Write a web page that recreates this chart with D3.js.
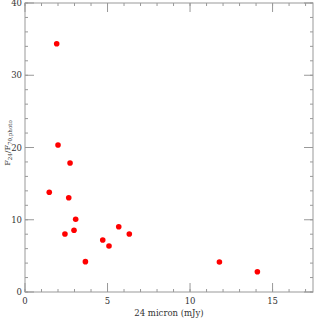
<!DOCTYPE html>
<html>
<head>
<meta charset="utf-8">
<script src="https://cdn.jsdelivr.net/npm/d3@7"></script>
<style>
body { margin: 0; background: #fff; }
text { font-family: "DejaVu Serif", "Liberation Serif", serif; }
</style>
</head>
<body>
<svg id="chart" width="314" height="320"></svg>
<script>
// flux at 24 micron (mJy) and F24/F70 ratio
var flux24 = [1.47, 1.92, 2.0, 2.42, 2.65, 2.73, 2.97, 3.07, 3.66, 4.71, 5.09, 5.68, 6.32, 11.78, 14.08];
var ratio = [13.8, 34.37, 20.35, 8.03, 13.05, 17.85, 8.54, 10.06, 4.2, 7.2, 6.37, 9.04, 8.03, 4.15, 2.81];
var xTicks = [0, 5, 10, 15];
var yTicks = [0, 10, 20, 30, 40];

var svg = d3.select('#chart');
var pLeft = 25, pRight = 313, pTop = 3, pBottom = 292;

var x = d3.scaleLinear().domain([0, 17.45]).range([pLeft, pRight]);
var y = d3.scaleLinear().domain([0, 40]).range([pBottom, pTop]);

var tickColor = '#999';

// frame
svg.append('rect')
    .attr('x', pLeft).attr('y', pTop)
    .attr('width', pRight - pLeft).attr('height', pBottom - pTop)
    .attr('fill', 'none').attr('stroke', tickColor).attr('stroke-width', 1);

// inward ticks on all four sides
var xMinor = d3.range(0, 18, 1);
var yMinor = d3.range(0, 41, 2);

function xt(g, vals, len) {
    g.selectAll(null).data(vals).enter().append('line')
        .attr('x1', function(d) { return x(d); }).attr('x2', function(d) { return x(d); })
        .attr('y1', pBottom).attr('y2', pBottom - len)
        .attr('stroke', tickColor);
    g.selectAll(null).data(vals).enter().append('line')
        .attr('x1', function(d) { return x(d); }).attr('x2', function(d) { return x(d); })
        .attr('y1', pTop).attr('y2', pTop + len)
        .attr('stroke', tickColor);
}
function yt(g, vals, len) {
    g.selectAll(null).data(vals).enter().append('line')
        .attr('y1', function(d) { return y(d); }).attr('y2', function(d) { return y(d); })
        .attr('x1', pLeft).attr('x2', pLeft + len)
        .attr('stroke', tickColor);
    g.selectAll(null).data(vals).enter().append('line')
        .attr('y1', function(d) { return y(d); }).attr('y2', function(d) { return y(d); })
        .attr('x1', pRight).attr('x2', pRight - len)
        .attr('stroke', tickColor);
}
var ticks = svg.append('g');
xt(ticks, xMinor, 3);
xt(ticks, xTicks, 9);
yt(ticks, yMinor, 3);
yt(ticks, yTicks, 9);

// tick labels
svg.selectAll('.xl').data(xTicks).enter().append('text')
    .attr('x', function(d) { return x(d); })
    .attr('y', pBottom + 12)
    .attr('text-anchor', 'middle')
    .attr('font-size', 8.5)
    .attr('fill', '#333')
    .text(function(d) { return d; });

svg.selectAll('.yl').data(yTicks).enter().append('text')
    .attr('x', pLeft - 3)
    .attr('y', function(d) { return y(d) + 3; })
    .attr('text-anchor', 'end')
    .attr('font-size', 8.5)
    .attr('fill', '#333')
    .text(function(d) { return d; });

// axis labels
svg.append('text')
    .attr('x', (pLeft + pRight) / 2)
    .attr('y', 316)
    .attr('text-anchor', 'middle')
    .attr('font-size', 8.5)
    .attr('fill', '#333')
    .text('24 micron (mJy)');

var yl = svg.append('text')
    .attr('transform', 'translate(10,' + 143 + ') rotate(-90)')
    .attr('text-anchor', 'middle')
    .attr('font-size', 8)
    .attr('fill', '#333');
yl.append('tspan').text('F');
yl.append('tspan').attr('font-size', 5.5).attr('dy', 2).text('24');
yl.append('tspan').attr('dy', -2).text('/F');
yl.append('tspan').attr('font-size', 5.5).attr('dy', 2).text('70,photo');

// points
svg.selectAll('circle').data(flux24).enter().append('circle')
    .attr('cx', function(d) { return x(d); })
    .attr('cy', function(d, i) { return y(ratio[i]); })
    .attr('r', 2.8)
    .attr('fill', '#ff0000');
</script>
</body>
</html>
